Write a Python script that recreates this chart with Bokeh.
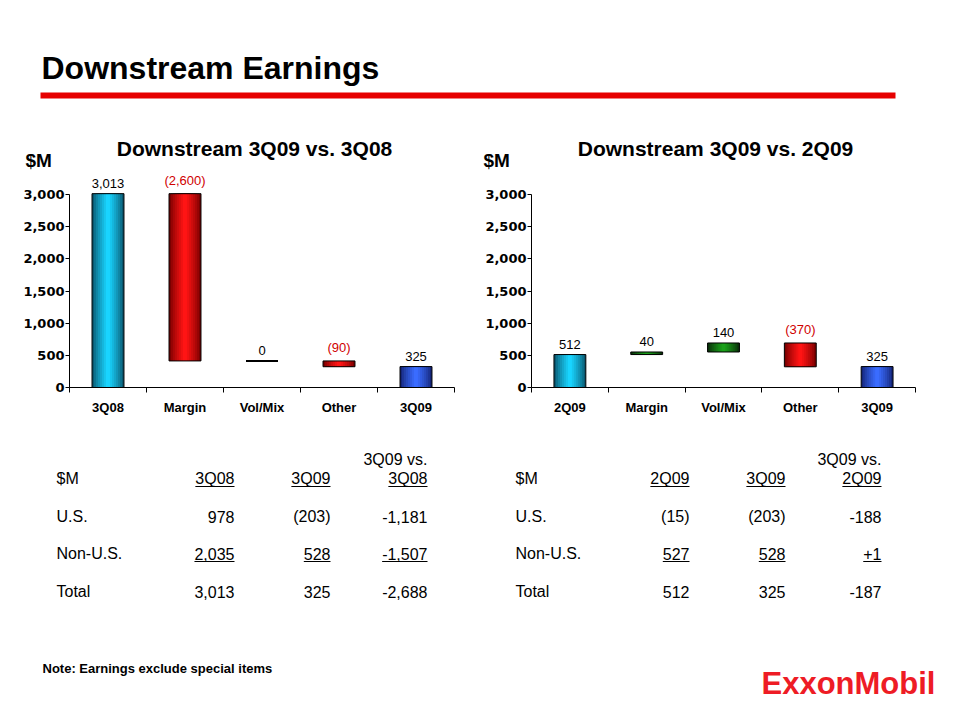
from bokeh.plotting import figure
from bokeh.layouts import column, row
from bokeh.models import Range1d, FixedTicker, NumeralTickFormatter
from bokeh.core.properties import value
from bokeh.embed import file_html
from bokeh.resources import INLINE

# ---------------- data ----------------
page_title = "Downstream Earnings"
unit_label = "$M"

left_title = "Downstream 3Q09 vs. 3Q08"
left_cats = ["3Q08", "Margin", "Vol/Mix", "Other", "3Q09"]
left_values = [3013, -2600, 0, -90, 325]
left_labels = ["3,013", "(2,600)", "0", "(90)", "325"]

right_title = "Downstream 3Q09 vs. 2Q09"
right_cats = ["2Q09", "Margin", "Vol/Mix", "Other", "3Q09"]
right_values = [512, 40, 140, -370, 325]
right_labels = ["512", "40", "140", "(370)", "325"]

y_ticks = [0, 500, 1000, 1500, 2000, 2500, 3000]

row_names = ["U.S.", "Non-U.S.", "Total"]
left_headers = ["3Q08", "3Q09", "3Q08"]
left_us = ["978", "(203)", "-1,181"]
left_nonus = ["2,035", "528", "-1,507"]
left_total = ["3,013", "325", "-2,688"]

right_headers = ["2Q09", "3Q09", "2Q09"]
right_us = ["(15)", "(203)", "-188"]
right_nonus = ["527", "528", "+1"]
right_total = ["512", "325", "-187"]

note_text = "Note:  Earnings exclude special items"
logo_text = "ExxonMobil"

# ---------------- style helpers ----------------
FONT = "Liberation Sans"
RED = "#E60000"
LABEL_RED = "#D00000"
PALETTE = {
    "start": ("#0A5870", "#19D4FF"),
    "end": ("#15267A", "#3A6CFF"),
    "neg": ("#7A0000", "#FF1414"),
    "pos": ("#0A300A", "#1AA01A"),
    "zero": ("#000000", "#000000"),
}


def mix(c1, c2, t):
    a = [int(c1[i:i + 2], 16) for i in (1, 3, 5)]
    b = [int(c2[i:i + 2], 16) for i in (1, 3, 5)]
    return "#%02x%02x%02x" % tuple(int(round(a[k] + (b[k] - a[k]) * t)) for k in range(3))


def waterfall(vals):
    bottoms, tops, kinds = [], [], []
    run = 0
    n = len(vals)
    for i, v in enumerate(vals):
        if i == 0 or i == n - 1:
            bottoms.append(0)
            tops.append(v)
            kinds.append("start" if i == 0 else "end")
            run = v
        else:
            bottoms.append(run)
            tops.append(run + v)
            run += v
            kinds.append("neg" if v < 0 else ("pos" if v > 0 else "zero"))
    return bottoms, tops, kinds


def base_fig(w, h, xr, yr):
    p = figure(width=w, height=h, x_range=xr, y_range=yr, output_backend="svg",
               toolbar_location=None, tools="")
    p.outline_line_color = None
    p.background_fill_color = "white"
    p.border_fill_color = "white"
    p.grid.visible = False
    return p


HDR_H = 174
PX_PER_UNIT = 193.0 / 3000.0
CH_H = 430 - HDR_H
BORDER_BOTTOM = 43
BAR_W = 0.415


def chart(cats, vals, labels, bl, br):
    frame_h = CH_H - BORDER_BOTTOM
    n = len(cats)
    p = base_fig(480, CH_H, Range1d(0, n), Range1d(0, frame_h / PX_PER_UNIT))
    p.min_border_left = bl
    p.min_border_right = br
    p.min_border_top = 0
    p.min_border_bottom = BORDER_BOTTOM

    bottoms, tops, kinds = waterfall(vals)
    xs = [i + 0.5 for i in range(n)]
    NL = 8
    for k in range(NL):
        t = k / (NL - 1)
        frac = 1.0 - k / NL
        cols = [mix(PALETTE[kd][0], PALETTE[kd][1], t ** 0.8) for kd in kinds]
        p.vbar(x=xs, bottom=bottoms, top=tops, width=BAR_W * frac,
               fill_color=cols, line_color=None)
    lw = [2 if kd == "zero" else 1 for kd in kinds]
    p.vbar(x=xs, bottom=bottoms, top=tops, width=BAR_W, fill_color=None,
           line_color="black", line_width=lw)

    lab_y = [max(b, t) for b, t in zip(bottoms, tops)]
    lab_c = [LABEL_RED if v < 0 else "black" for v in vals]
    p.text(x=xs, y=lab_y, text=labels, text_color=lab_c, text_align="center",
           text_baseline="bottom", y_offset=-6, text_font=value(FONT),
           text_font_size="13px")

    ya = p.yaxis[0]
    ya.ticker = FixedTicker(ticks=y_ticks, minor_ticks=[])
    ya.formatter = NumeralTickFormatter(format="0,0")
    ya.bounds = (0, 3000)
    ya.major_tick_out = 4
    ya.major_tick_in = 0
    ya.minor_tick_line_color = None
    ya.major_label_standoff = 1
    ya.major_label_text_font = "DejaVu Sans"
    ya.major_label_text_font_style = "bold"
    ya.major_label_text_font_size = "13px"
    ya.major_label_text_color = "black"
    ya.axis_line_color = "black"
    ya.major_tick_line_color = "black"

    xa = p.xaxis[0]
    xa.ticker = FixedTicker(ticks=xs, minor_ticks=list(range(n + 1)))
    xa.major_label_overrides = {x: c for x, c in zip(xs, cats)}
    xa.major_tick_line_color = None
    xa.major_tick_out = 0
    xa.major_tick_in = 0
    xa.minor_tick_out = 5
    xa.minor_tick_in = 0
    xa.minor_tick_line_color = "black"
    xa.major_label_standoff = 7
    xa.major_label_text_font = FONT
    xa.major_label_text_font_style = "bold"
    xa.major_label_text_font_size = "13px"
    xa.major_label_text_color = "black"
    xa.axis_line_color = "black"
    return p


# ---------------- header ----------------
hdr = base_fig(960, HDR_H, Range1d(0, 960), Range1d(HDR_H, 0))
hdr.min_border = 0
hdr.axis.visible = False
hdr.text(x=[41], y=[67], text=[page_title], text_font=value(FONT), text_font_style="bold",
         text_font_size="32px", text_color="black", text_baseline="middle")
hdr.quad(left=[40], right=[895], top=[92], bottom=[98], fill_color=RED, line_color=None)
hdr.text(x=[254, 715], y=[148, 148], text=[left_title, right_title], text_font=value(FONT),
         text_font_style="bold", text_font_size="21px", text_align="center",
         text_baseline="middle", text_color="black")
hdr.text(x=[25, 483], y=[160, 160], text=[unit_label, unit_label], text_font=value(FONT),
         text_font_style="bold", text_font_size="19px", text_baseline="middle",
         text_color="black")

# ---------------- charts ----------------
left = chart(left_cats, left_values, left_labels, 69, 26)
right = chart(right_cats, right_values, right_labels, 51, 45)

# ---------------- tables + footer ----------------
BOT_H = 720 - 430
bot = base_fig(960, BOT_H, Range1d(0, 960), Range1d(720, 430))
bot.min_border = 0
bot.axis.visible = False

ARIAL_W = {c: 0.556 for c in "0123456789"}
ARIAL_W.update({"Q": 0.778, ",": 0.278, "(": 0.333, ")": 0.333, "-": 0.333, "+": 0.584,
                ".": 0.278, "v": 0.5, "s": 0.5, " ": 0.278})
TSIZE = 16


def tw(s):
    return sum(ARIAL_W.get(c, 0.6) for c in s) * TSIZE


def table(label_x, col_right, headers, us, nonus, total):
    y_head2, y_head, ys = 459, 478, [516, 553, 591]
    xs, yv, tx, al = [], [], [], []
    xs.append(col_right[2]); yv.append(y_head2); tx.append("3Q09 vs."); al.append("right")
    xs.append(label_x); yv.append(y_head); tx.append(unit_label); al.append("left")
    for cx, h in zip(col_right, headers):
        xs.append(cx); yv.append(y_head); tx.append(h); al.append("right")
    for y, name, vals in zip(ys, row_names, [us, nonus, total]):
        xs.append(label_x); yv.append(y); tx.append(name); al.append("left")
        for cx, v in zip(col_right, vals):
            xs.append(cx); yv.append(y); tx.append(v); al.append("right")
    bot.text(x=xs, y=yv, text=tx, text_align=al, text_baseline="middle",
             text_font=value(FONT), text_font_size="%dpx" % TSIZE, text_color="black")
    x0, x1, uy = [], [], []
    for cx, h in zip(col_right, headers):
        x0.append(cx - tw(h)); x1.append(cx); uy.append(y_head + 8)
    for cx, v in zip(col_right, nonus):
        x0.append(cx - tw(v)); x1.append(cx); uy.append(ys[1] + 8)
    bot.segment(x0=x0, x1=x1, y0=uy, y1=uy, line_color="black", line_width=1)


table(56, [234, 330, 427], left_headers, left_us, left_nonus, left_total)
table(515, [689, 785, 881], right_headers, right_us, right_nonus, right_total)

bot.text(x=[42], y=[668], text=[note_text], text_font=value(FONT), text_font_style="bold",
         text_font_size="13px", text_baseline="middle", text_color="black")
bot.text(x=[761], y=[683], text=[logo_text], text_font=value(FONT), text_font_style="bold",
         text_font_size="31px", text_baseline="middle", text_color="#EE1C25")

layout = column(hdr, row(left, right, spacing=0), bot, spacing=0)
open("out.html", "w").write(file_html(layout, INLINE))
